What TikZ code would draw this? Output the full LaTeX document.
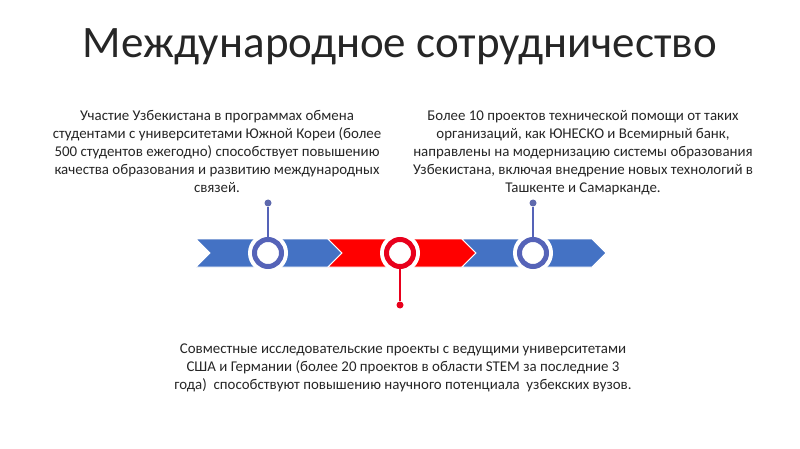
\documentclass[tikz,border=0pt]{standalone}
\usepackage{fontspec}
\setmainfont{Carlito}
\definecolor{bandblue}{HTML}{4472C4}
\definecolor{ringblue}{HTML}{5563B8}
\definecolor{bandred}{HTML}{FF0000}
\definecolor{ringred}{HTML}{E8001C}
\definecolor{txt}{HTML}{262626}
\begin{document}
\begin{tikzpicture}[x=1pt,y=-1pt,
  seg/.style={draw=white,line width=0.8pt},
  halo/.style={circle,fill=white,minimum size=40pt,inner sep=0pt},
  ring/.style={circle,draw=#1,line width=5pt,fill=white,minimum size=27pt,inner sep=0pt},
  dot/.style={circle,fill=#1,minimum size=7pt,inner sep=0pt},
  stem/.style={draw=#1,line width=1.2pt},
  body/.style={font=\fontsize{14.9}{18}\selectfont,text=txt,align=center,inner sep=0pt},
]
\path[use as bounding box,fill=white] (0,0) rectangle (800,449);
\node[font=\fontsize{45}{50}\selectfont,text=txt,inner sep=0pt] (title) at (400,47) {Международное сотрудничество};
% band segments
\path[seg,fill=bandblue] (196,239) -- (328,239) -- (342,253) -- (328,267) -- (196,267) -- (210,253) -- cycle;
\path[seg,fill=bandred] (328,239) -- (462,239) -- (476,253) -- (462,267) -- (328,267) -- (342,253) -- cycle;
\path[seg,fill=bandblue] (462,239) -- (592,239) -- (606,253) -- (592,267) -- (462,267) -- (476,253) -- cycle;
% circles
\node[halo] (h1) at (268,253) {};
\node[halo] (h2) at (400,253) {};
\node[halo] (h3) at (533,253) {};
\node[ring=ringblue] (c1) at (268,253) {};
\node[ring=ringred] (c2) at (400,253) {};
\node[ring=ringblue] (c3) at (533,253) {};
% dots and stems
\node[dot=ringblue!80!gray] (d1) at (268,203) {};
\node[dot=ringred] (d2) at (400,305) {};
\node[dot=ringblue!80!gray] (d3) at (533,203) {};
\draw[stem=ringblue] (d1) -- (c1.north);
\draw[stem=ringred] (d2) -- (c2.south);
\draw[stem=ringblue] (d3) -- (c3.north);
% texts
\node[body,anchor=north] (t1) at (217,110) {Участие Узбекистана в программах обмена\\студентами с университетами Южной Кореи (более\\500 студентов ежегодно) способствует повышению\\качества образования и развитию международных\\связей.};
\node[body,anchor=north] (t2) at (583,110) {Более 10 проектов технической помощи от таких\\организаций, как ЮНЕСКО и Всемирный банк,\\направлены на модернизацию системы образования\\Узбекистана, включая внедрение новых технологий в\\Ташкенте и Самарканде.};
\node[body,anchor=north] (t3) at (403,344) {Совместные исследовательские проекты с ведущими университетами\\США и Германии (более 20 проектов в области STEM за последние 3\\года)~ способствуют повышению научного потенциала~ узбекских вузов.};
\end{tikzpicture}
\end{document}
